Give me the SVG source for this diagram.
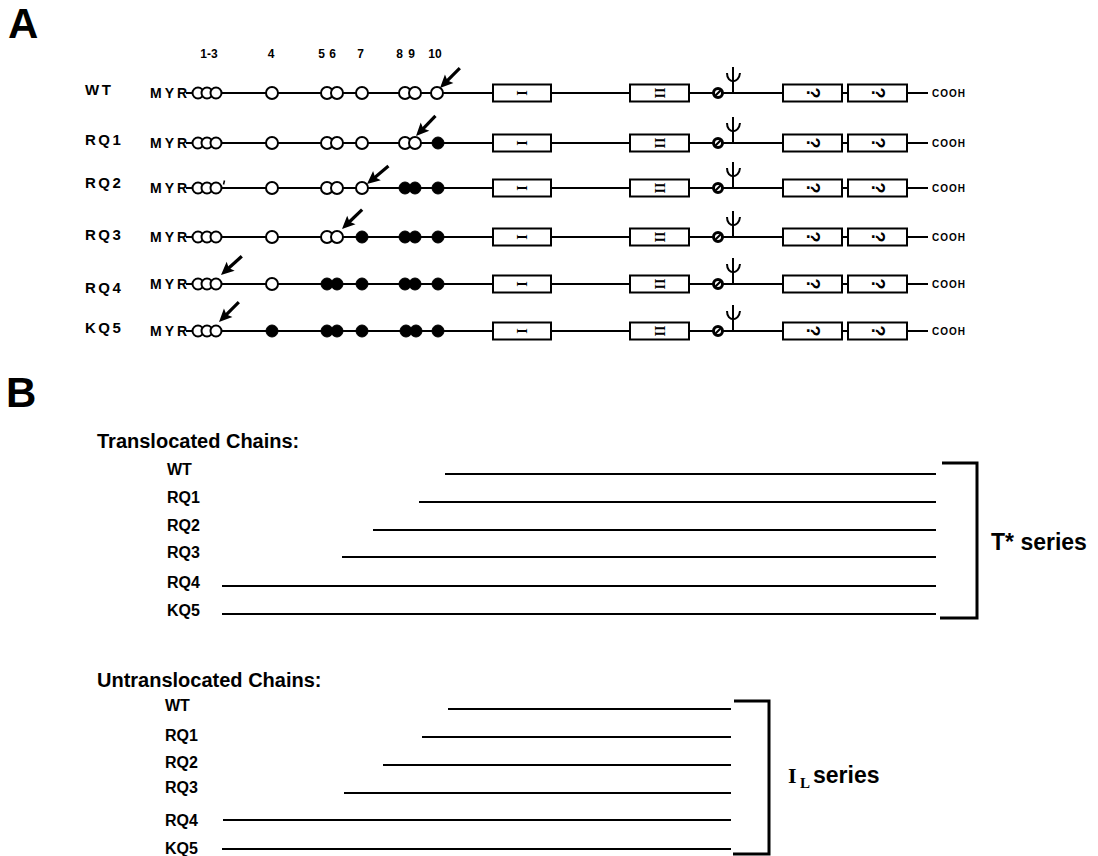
<svg xmlns="http://www.w3.org/2000/svg" xmlns:xlink="http://www.w3.org/1999/xlink" width="1098" height="856" viewBox="0 0 1098 856">
<style>
.bg{fill:#fff}
.big{font-family:"Liberation Sans",Arial,sans-serif;font-weight:bold;font-size:42px;fill:#000}
.lblA{font-family:"Liberation Sans",Arial,sans-serif;font-weight:bold;font-size:15px;fill:#000;letter-spacing:2.5px}
.myr{font-family:"Liberation Sans",Arial,sans-serif;font-weight:bold;font-size:14px;fill:#000;letter-spacing:3px}
.num{font-family:"Liberation Sans",Arial,sans-serif;font-weight:bold;font-size:12px;fill:#000;text-anchor:middle}
.cooh{font-family:"Liberation Sans",Arial,sans-serif;font-weight:bold;font-size:10px;fill:#000;letter-spacing:1px}
.roman{font-family:"Liberation Serif","Times New Roman",serif;font-weight:bold;font-size:14px;fill:#000;text-anchor:middle}
.qm{font-family:"Liberation Sans",Arial,sans-serif;font-weight:bold;font-size:18px;fill:#000;text-anchor:middle}
.head{font-family:"Liberation Sans",Arial,sans-serif;font-weight:bold;font-size:20px;fill:#000}
.lblB{font-family:"Liberation Sans",Arial,sans-serif;font-weight:bold;font-size:16px;fill:#000}
.ser{font-family:"Liberation Sans",Arial,sans-serif;font-weight:bold;font-size:23px;fill:#000}
.serif{font-family:"Liberation Serif","Times New Roman",serif;fill:#000}
.ln{stroke:#000;stroke-width:2;fill:none}
.lnB{stroke:#000;stroke-width:2.2;fill:none}
.brk{stroke:#000;stroke-width:3;fill:none}
.o{fill:#fff;stroke:#000;stroke-width:2}
.f{fill:#000;stroke:#000;stroke-width:1}
.box{fill:#fff;stroke:#000;stroke-width:2}
</style>
<defs>
<g id="arrow">
<line x1="-28" y1="0" x2="-9" y2="0" stroke="#000" stroke-width="3.2"/>
<path d="M0,0 L-13,-6 L-10.5,0 L-13,6 Z" fill="#000"/>
</g>
<g id="cterm">
<rect class="box" x="493" y="-8.5" width="58" height="17"/>
<text class="roman" transform="translate(522,0) rotate(90)" y="5">I</text>
<rect class="box" x="630" y="-8.5" width="59" height="17"/>
<text class="roman" transform="translate(659.5,0) rotate(90)" y="5">II</text>
<circle cx="718" cy="0" r="4.5" fill="#fff" stroke="#000" stroke-width="3"/>
<line x1="715" y1="3" x2="721" y2="-3" stroke="#000" stroke-width="2.2"/>
<line x1="733" y1="0" x2="733" y2="-26" stroke="#000" stroke-width="2"/>
<path d="M727,-20 C727,-9 739,-9 740,-20" fill="none" stroke="#000" stroke-width="2"/>
<rect class="box" x="783" y="-8.5" width="59" height="17"/>
<text class="qm" transform="translate(812.5,0) rotate(90)" y="6">?</text>
<rect class="box" x="848" y="-8.5" width="59" height="17"/>
<text class="qm" transform="translate(877.5,0) rotate(90)" y="6">?</text>
<text class="cooh" x="932" y="4">COOH</text>
</g>
</defs>
<rect class="bg" x="0" y="0" width="1098" height="856"/>

<text class="big" x="8" y="38">A</text>
<text class="big" x="6" y="407">B</text>

<g id="site-numbers">
<text class="num" x="209" y="58">1-3</text>
<text class="num" x="271" y="58">4</text>
<text class="num" x="321.5" y="58">5</text>
<text class="num" x="332.5" y="58">6</text>
<text class="num" x="360.5" y="58">7</text>
<text class="num" x="399.5" y="58">8</text>
<text class="num" x="411.5" y="58">9</text>
<text class="num" x="435" y="58">10</text>
</g>

<g id="row-WT">
<text class="lblA" x="85" y="95">WT</text>
<text class="myr" x="150" y="98">MYR</text>
<line class="ln" x1="186" y1="93" x2="928" y2="93"/>
<circle class="o" cx="198" cy="93" r="5.5"/><circle class="o" cx="207" cy="93" r="5.5"/><circle class="o" cx="216" cy="93" r="5.5"/>
<circle class="o" cx="272" cy="93" r="6"/>
<circle class="o" cx="327" cy="93" r="6"/><circle class="o" cx="337" cy="93" r="6"/>
<circle class="o" cx="362" cy="93" r="6"/>
<circle class="o" cx="405" cy="93" r="6"/><circle class="o" cx="415" cy="93" r="6"/>
<circle class="o" cx="437" cy="93" r="6"/>
<use xlink:href="#cterm" href="#cterm" y="93"/>
</g>

<g id="row-RQ1">
<text class="lblA" x="85" y="145">RQ1</text>
<text class="myr" x="150" y="148">MYR</text>
<line class="ln" x1="186" y1="143" x2="928" y2="143"/>
<circle class="o" cx="198" cy="143" r="5.5"/><circle class="o" cx="207" cy="143" r="5.5"/><circle class="o" cx="216" cy="143" r="5.5"/>
<circle class="o" cx="272" cy="143" r="6"/>
<circle class="o" cx="327" cy="143" r="6"/><circle class="o" cx="337" cy="143" r="6"/>
<circle class="o" cx="362" cy="143" r="6"/>
<circle class="o" cx="405" cy="143" r="6"/><circle class="o" cx="415" cy="143" r="6"/>
<circle class="f" cx="438" cy="143" r="6"/>
<use xlink:href="#cterm" href="#cterm" y="143"/>
</g>

<g id="row-RQ2">
<text class="lblA" x="85" y="188">RQ2</text>
<text class="myr" x="150" y="193">MYR</text>
<line class="ln" x1="186" y1="188" x2="928" y2="188"/>
<circle class="o" cx="198" cy="188" r="5.5"/><circle class="o" cx="207" cy="188" r="5.5"/><circle class="o" cx="216" cy="188" r="5.5"/>
<line x1="224.5" y1="180.5" x2="223.5" y2="184.5" stroke="#000" stroke-width="1.5"/>
<circle class="o" cx="272" cy="188" r="6"/>
<circle class="o" cx="327" cy="188" r="6"/><circle class="o" cx="337" cy="188" r="6"/>
<circle class="o" cx="362" cy="188" r="6"/>
<circle class="f" cx="405" cy="188" r="6"/><circle class="f" cx="415" cy="188" r="6"/>
<circle class="f" cx="438" cy="188" r="6"/>
<use xlink:href="#cterm" href="#cterm" y="188"/>
</g>

<g id="row-RQ3">
<text class="lblA" x="85" y="240">RQ3</text>
<text class="myr" x="150" y="242">MYR</text>
<line class="ln" x1="186" y1="237" x2="928" y2="237"/>
<circle class="o" cx="198" cy="237" r="5.5"/><circle class="o" cx="207" cy="237" r="5.5"/><circle class="o" cx="216" cy="237" r="5.5"/>
<circle class="o" cx="272" cy="237" r="6"/>
<circle class="o" cx="327" cy="237" r="6"/><circle class="o" cx="337" cy="237" r="6"/>
<circle class="f" cx="362" cy="237" r="6"/>
<circle class="f" cx="405" cy="237" r="6"/><circle class="f" cx="415" cy="237" r="6"/>
<circle class="f" cx="438" cy="237" r="6"/>
<use xlink:href="#cterm" href="#cterm" y="237"/>
</g>

<g id="row-RQ4">
<text class="lblA" x="85" y="293">RQ4</text>
<text class="myr" x="150" y="289">MYR</text>
<line class="ln" x1="186" y1="284" x2="928" y2="284"/>
<circle class="o" cx="198" cy="284" r="5.5"/><circle class="o" cx="207" cy="284" r="5.5"/><circle class="o" cx="216" cy="284" r="5.5"/>
<circle class="o" cx="272" cy="284" r="6"/>
<circle class="f" cx="327" cy="284" r="6"/><circle class="f" cx="337" cy="284" r="6"/>
<circle class="f" cx="362" cy="284" r="6"/>
<circle class="f" cx="405" cy="284" r="6"/><circle class="f" cx="415" cy="284" r="6"/>
<circle class="f" cx="438" cy="284" r="6"/>
<use xlink:href="#cterm" href="#cterm" y="284"/>
</g>

<g id="row-KQ5">
<text class="lblA" x="85" y="333">KQ5</text>
<text class="myr" x="150" y="336">MYR</text>
<line class="ln" x1="186" y1="331" x2="928" y2="331"/>
<circle class="o" cx="198" cy="331" r="5.5"/><circle class="o" cx="207" cy="331" r="5.5"/><circle class="o" cx="216" cy="331" r="5.5"/>
<circle class="f" cx="272" cy="331" r="6"/>
<circle class="f" cx="327" cy="331" r="6"/><circle class="f" cx="337" cy="331" r="6"/>
<circle class="f" cx="362" cy="331" r="6"/>
<circle class="f" cx="406" cy="331" r="6"/><circle class="f" cx="416" cy="331" r="6"/>
<circle class="f" cx="438" cy="331" r="6"/>
<use xlink:href="#cterm" href="#cterm" y="331"/>
</g>

<g id="connectors">
<use xlink:href="#arrow" href="#arrow" transform="translate(440,88) rotate(135)"/>
<use xlink:href="#arrow" href="#arrow" transform="translate(416,136) rotate(134)"/>
<use xlink:href="#arrow" href="#arrow" transform="translate(367,184) rotate(140)"/>
<use xlink:href="#arrow" href="#arrow" transform="translate(342,229) rotate(136)"/>
<use xlink:href="#arrow" href="#arrow" transform="translate(221,275) rotate(138)"/>
<use xlink:href="#arrow" href="#arrow" transform="translate(219,322) rotate(135)"/>
</g>

<g id="translocated">
<text class="head" x="97" y="448">Translocated Chains:</text>
<g id="t-WT"><text class="lblB" x="167" y="475">WT</text><line class="lnB" x1="445" y1="474" x2="936" y2="474"/></g>
<g id="t-RQ1"><text class="lblB" x="167" y="503">RQ1</text><line class="lnB" x1="419" y1="502" x2="936" y2="502"/></g>
<g id="t-RQ2"><text class="lblB" x="167" y="531">RQ2</text><line class="lnB" x1="373" y1="530" x2="936" y2="530"/></g>
<g id="t-RQ3"><text class="lblB" x="167" y="558">RQ3</text><line class="lnB" x1="342" y1="557" x2="936" y2="557"/></g>
<g id="t-RQ4"><text class="lblB" x="167" y="588">RQ4</text><line class="lnB" x1="222" y1="586" x2="936" y2="586"/></g>
<g id="t-KQ5"><text class="lblB" x="167" y="616">KQ5</text><line class="lnB" x1="222" y1="614" x2="936" y2="614"/></g>
<path class="brk" d="M942,463 H977 V618 H940"/>
<text class="ser" x="991" y="550">T* series</text>
</g>

<g id="untranslocated">
<text class="head" x="97" y="687">Untranslocated Chains:</text>
<g id="u-WT"><text class="lblB" x="165" y="711">WT</text><line class="lnB" x1="448" y1="709" x2="731" y2="709"/></g>
<g id="u-RQ1"><text class="lblB" x="165" y="741">RQ1</text><line class="lnB" x1="422" y1="737" x2="731" y2="737"/></g>
<g id="u-RQ2"><text class="lblB" x="165" y="768">RQ2</text><line class="lnB" x1="383" y1="765" x2="731" y2="765"/></g>
<g id="u-RQ3"><text class="lblB" x="165" y="793">RQ3</text><line class="lnB" x1="344" y1="793" x2="731" y2="793"/></g>
<g id="u-RQ4"><text class="lblB" x="165" y="826">RQ4</text><line class="lnB" x1="223" y1="820" x2="731" y2="820"/></g>
<g id="u-KQ5"><text class="lblB" x="165" y="854">KQ5</text><line class="lnB" x1="222" y1="849" x2="731" y2="849"/></g>
<path class="brk" d="M734,701 H769 V854 H733"/>
<text class="serif" x="788" y="783" font-size="22" font-weight="bold">I</text>
<text class="serif" x="800" y="788" font-size="15" font-weight="bold">L</text>
<text class="ser" x="813" y="783">series</text>
</g>
</svg>
